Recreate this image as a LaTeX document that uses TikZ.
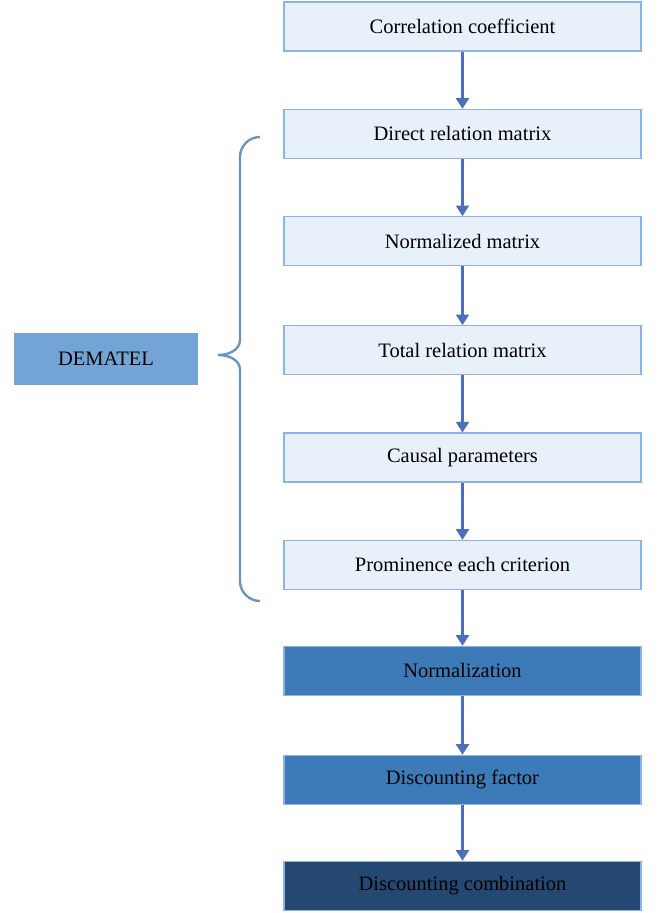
\documentclass[tikz,border=0pt]{standalone}
\usepackage{fontspec}
\setmainfont{Liberation Serif}
\usepackage{tikz}
\usetikzlibrary{arrows.meta,shapes,calc}
\definecolor{lightfill}{HTML}{E8F0FA}
\definecolor{lightline}{HTML}{8DB3E2}
\definecolor{midfill}{HTML}{3C7AB8}
\definecolor{darkfill}{HTML}{244872}
\definecolor{demfill}{HTML}{72A5D5}
\definecolor{arrowblue}{HTML}{4A6FBF}

\begin{document}
\begin{tikzpicture}
\tikzstyle{stage}=[rectangle, minimum width = 10.71cm, minimum height = 1.47cm, draw = lightline, line width = 1pt, fill = lightfill, font = \fontsize{17.5}{21}\selectfont, node distance = 3.22cm]
\tikzstyle{stagemid}=[stage, fill = midfill]
\tikzstyle{stagedark}=[stage, fill = darkfill]
\tikzstyle{method}=[rectangle, minimum width = 5.52cm, minimum height = 1.56cm, fill = demfill, font = \fontsize{17.5}{21}\selectfont, node distance = 3.22cm]
\tikzstyle{connect}=[-{Triangle[width=11pt,length=9pt]}, line width = 2pt, arrowblue]
\tikzstyle{bracket}=[line width = 2pt, demfill!90!black]

  \useasboundingbox (-13.875,0.795) rectangle (5.865,-26.595);

  \node[stage] (corr)                 {Correlation coefficient};
  \node[stage] (direct) [below of =corr]   {Direct relation matrix};
  \node[stage] (norm)   [below of =direct] {Normalized matrix};
  \node[stage] (total)  [below of =norm, yshift=-0.05cm]   {Total relation matrix};
  \node[stage] (causal) [below of =total]  {Causal parameters};
  \node[stage] (prom)   [below of =causal] {Prominence each criterion};

  \node[stagemid]  (normz) [below of =prom, yshift=0.04cm]  {Normalization};
  \node[stagemid]  (disc)  [below of =normz, yshift=-0.05cm] {Discounting factor};
  \node[stagedark] (comb)  [below of =disc, yshift=0.04cm]  {Discounting combination};

  \node[method] (dematel) [left of =total, xshift=-7.475cm, yshift=-0.255cm] {DEMATEL};

  \path (corr) edge [connect] (direct);
  \path (direct) edge [connect] (norm);
  \path (norm) edge [connect] (total);
  \path (total) edge [connect] (causal);
  \path (causal) edge [connect] (prom);
  \path (prom) edge [connect] (normz);
  \path (normz) edge [connect] (disc);
  \path (disc) edge [connect] (comb);

  % brace
  \coordinate (btop) at (-6.075,-3.315);
  \coordinate (btip) at (-7.335,-9.855);
  \coordinate (bbot) at (-6.075,-17.235);
  \draw[bracket] (btop) arc (90:180:0.6) -- (-6.675,-9.4)
    to[out=-90,in=0] (btip) to[out=0,in=90] (-6.675,-10.3)
    -- (-6.675,-16.635) arc (180:270:0.6);

\end{tikzpicture}
\end{document}
